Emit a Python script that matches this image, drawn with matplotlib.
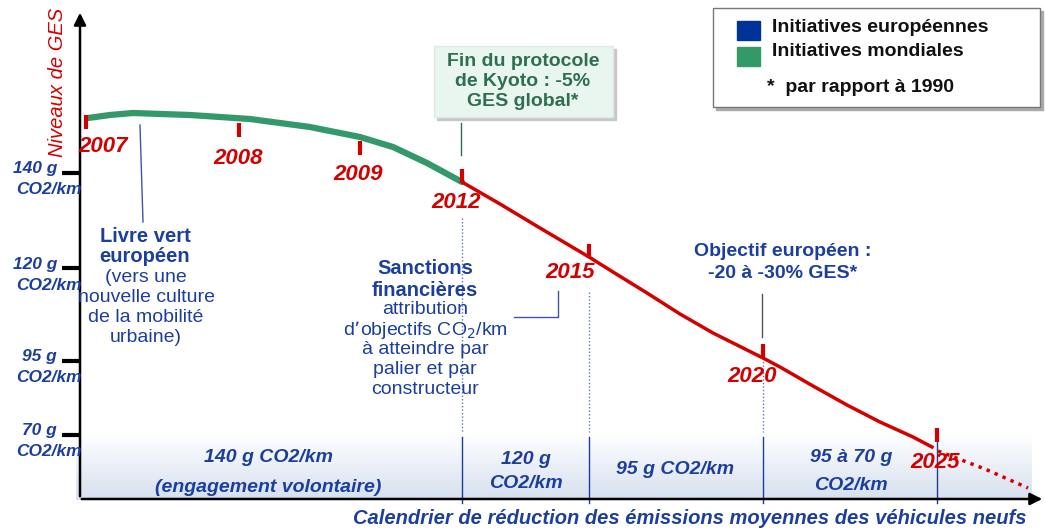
import numpy as np
import matplotlib.pyplot as plt
from matplotlib.patches import Rectangle
from matplotlib.colors import LinearSegmentedColormap

# timeline milestones (horizontal position on the time axis) and the GES curve
years = ["2007", "2008", "2009", "2012", "2015", "2020", "2025"]
year_x = [86, 239, 360, 462, 589, 763, 937]
year_tick_y = [122, 130, 148, 176, 251, 351, 435]
year_label_xy = [(103, 146), (238, 158), (358, 175), (456, 203), (570, 272), (752, 376), (935, 462)]

# GES level curve: global phase (green) then european phase (red)
green_x = [88, 110, 133, 190, 250, 310, 360, 393, 427, 462]
green_y = [118, 115, 113, 115, 119, 127, 137, 147, 163, 182]
red_x = [462, 500, 540, 589, 613, 647, 680, 713, 763, 780, 813, 847, 880, 913, 932]
red_y = [182, 204, 228, 257, 272, 293, 314, 333, 358, 367, 386, 405, 422, 437, 447]
proj_x = [938, 985, 1028]
proj_y = [451, 469, 488]

# CO2 thresholds on the vertical axis
co2_levels = ["140 g", "120 g", "95 g", "70 g"]
co2_y = [173, 268, 361, 435]

# regulation periods along the bottom band
band_bounds = [462, 589, 763, 937]
band_labels = [(["140 g CO2/km", "(engagement volontaire)"], 268, 457, 30),
               (["120 g", "CO2/km"], 526, 460, 23),
               (["95 g CO2/km"], 675, 470, 0),
               (["95 à 70 g", "CO2/km"], 851, 457, 28)]

RED = "#d40000"
GREEN = "#33996a"
BLUE = "#1c3f9e"
DKGREEN = "#2f6e4f"

plt.rcParams["font.family"] = ["Liberation Sans", "DejaVu Sans"]


def text_lines(ax, x, y0, step, lines, **kw):
    for i, line in enumerate(lines):
        ax.text(x, y0 + i * step, line, ha="center", va="center", **kw)


fig = plt.figure(figsize=(10.45, 5.31), dpi=100)
ax = fig.add_axes([0, 0, 1, 1])
ax.set_xlim(0, 1045)
ax.set_ylim(531, 0)
ax.axis("off")

# light blue gradient band behind the period labels
cmap = LinearSegmentedColormap.from_list("band", ["#ffffff", "#d6e0ef"])
grad = np.linspace(0, 1, 100).reshape(-1, 1)
ax.imshow(grad, cmap=cmap, extent=[76, 1032, 500, 432], aspect="auto", zorder=0)

# axes with arrows
ax.annotate("", xy=(80, 10), xytext=(80, 499),
            arrowprops=dict(arrowstyle="-|>", color="black", lw=1.8, mutation_scale=18))
ax.annotate("", xy=(1045, 499), xytext=(79, 499),
            arrowprops=dict(arrowstyle="-|>", color="black", lw=1.8, mutation_scale=18))
ax.text(58, 8, "Niveaux de GES", rotation=90, color=RED, fontsize=14.5,
        style="italic", ha="center", va="top")

# CO2 thresholds
for lab, y in zip(co2_levels, co2_y):
    ax.plot([62, 80], [y, y], color="black", lw=3, solid_capstyle="butt")
    ax.text(57, y - 4, lab, color=BLUE, fontsize=12.5, weight="bold", style="italic",
            ha="right", va="center")
    ax.text(49, y + 17, "CO2/km", color=BLUE, fontsize=12.5, weight="bold", style="italic",
            ha="center", va="center")

# period separators
for x, top in zip(band_bounds, [218, 292, 358, None]):
    ax.plot([x, x], [437, 503], color=BLUE, lw=1)
    if top is not None:
        ax.plot([x, x], [top, 432], color=BLUE, lw=1, ls=(0, (1, 1.5)), alpha=0.7)
for lines, x, y0, step in band_labels:
    text_lines(ax, x, y0, step, lines, color=BLUE, fontsize=14, weight="bold", style="italic")

# the curve
ax.plot(green_x, green_y, color=GREEN, lw=4.5, solid_capstyle="round", zorder=3)
ax.plot(red_x, red_y, color=RED, lw=2.5, zorder=3)
ax.plot(proj_x, proj_y, color=RED, lw=2.5, ls=(0, (1, 1.5)), zorder=3)

# year markers
for lab, x, ty, (lx, ly) in zip(years, year_x, year_tick_y, year_label_xy):
    ax.plot([x, x], [ty - 7, ty + 7], color=RED, lw=3, solid_capstyle="butt", zorder=4)
    ax.text(lx, ly, lab, color=RED, fontsize=16, weight="bold", style="italic",
            ha="center", va="center", zorder=4)

# Kyoto box
ax.add_patch(Rectangle((437, 49), 179, 71, color="#c8c8c8", zorder=1))
ax.add_patch(Rectangle((434, 46), 179, 71, facecolor="#e9f6ef", edgecolor="#dcebe3", zorder=2))
text_lines(ax, 523, 62, 20, ["Fin du protocole", "de Kyoto : -5%", "GES global*"],
           color=DKGREEN, fontsize=14, weight="bold", zorder=3)
ax.plot([461, 461], [123, 155], color=DKGREEN, lw=1)

# Livre vert
ax.plot([140, 143], [125, 222], color="#3b55a8", lw=1)
text_lines(ax, 145, 236, 21, ["Livre vert", "européen"], color=BLUE, fontsize=14.5,
           weight="bold")
text_lines(ax, 146, 277, 20, ["(vers une", "nouvelle culture", "de la mobilité", "urbaine)"],
           color=BLUE, fontsize=14)

# Sanctions financieres
text_lines(ax, 425, 269, 21, ["Sanctions", "financières"], color=BLUE, fontsize=14.5,
           weight="bold")
text_lines(ax, 425, 310, 20, ["attribution", "d’objectifs CO$_2$/km", "à atteindre par",
                              "palier et par", "constructeur"], color=BLUE, fontsize=14)
ax.plot([514, 558, 558], [317, 317, 291], color="#3b55a8", lw=1)

# Objectif europeen
text_lines(ax, 783, 252, 21, ["Objectif européen :", "-20 à -30% GES*"], color=BLUE,
           fontsize=14, weight="bold")
ax.plot([762, 762], [294, 337], color="#555555", lw=1)

# legend box
ax.add_patch(Rectangle((716, 11), 327, 99, color="#aaaaaa", zorder=1))
ax.add_patch(Rectangle((713, 8), 327, 99, facecolor="white", edgecolor="#777777", lw=1, zorder=2))
ax.add_patch(Rectangle((737, 21), 23, 19, color="#003399", zorder=3))
ax.add_patch(Rectangle((737, 47), 23, 19, color="#339966", zorder=3))
ax.text(772, 27, "Initiatives européennes", fontsize=14, weight="bold", color="#111111",
        va="center", zorder=3)
ax.text(772, 52, "Initiatives mondiales", fontsize=14, weight="bold", color="#111111",
        va="center", zorder=3)
ax.text(767, 87, "*  par rapport à 1990", fontsize=14, weight="bold", color="#111111",
        va="center", zorder=3)

ax.text(690, 519, "Calendrier de réduction des émissions moyennes des véhicules neufs",
        color=BLUE, fontsize=14.5, weight="bold", style="italic", ha="center", va="center")

fig.savefig("out.png", dpi=100)
